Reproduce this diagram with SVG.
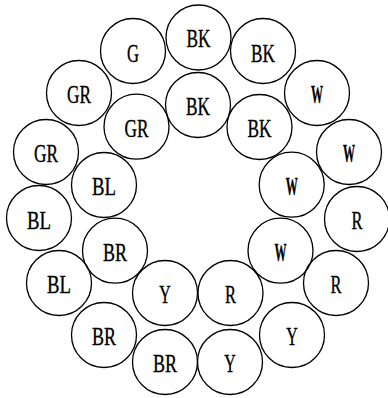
<svg xmlns="http://www.w3.org/2000/svg" width="388" height="398" viewBox="0 0 388 398">
<style>
circle{fill:none;stroke:#000;stroke-width:1.3}
text{font-family:"Liberation Serif",serif;font-size:25px;text-anchor:middle;fill:#000;stroke:#000;stroke-width:0.35}
.w{font-weight:bold}
</style>
<rect width="388" height="398" fill="#fff"/>
<g id="outer">
<g id="o1"><circle cx="133" cy="51" r="32.5"/><text x="133" y="61.5" textLength="12" lengthAdjust="spacingAndGlyphs">G</text></g>
<g id="o2"><circle cx="198.5" cy="37.5" r="32.5"/><text x="198.5" y="47" textLength="24" lengthAdjust="spacingAndGlyphs">BK</text></g>
<g id="o3"><circle cx="263" cy="51" r="32.5"/><text x="263" y="61.5" textLength="24" lengthAdjust="spacingAndGlyphs">BK</text></g>
<g id="o4"><circle cx="317" cy="93" r="32.5"/><text class="w" x="317" y="103" textLength="12" lengthAdjust="spacingAndGlyphs">W</text></g>
<g id="o5"><circle cx="349" cy="152" r="32.5"/><text class="w" x="349" y="162" textLength="12" lengthAdjust="spacingAndGlyphs">W</text></g>
<g id="o6"><circle cx="357" cy="219" r="32.5"/><text x="357" y="229" textLength="11" lengthAdjust="spacingAndGlyphs">R</text></g>
<g id="o7"><circle cx="336" cy="283" r="32.5"/><text x="336" y="293" textLength="11" lengthAdjust="spacingAndGlyphs">R</text></g>
<g id="o8"><circle cx="292" cy="335" r="32.5"/><text x="292" y="345" textLength="11.5" lengthAdjust="spacingAndGlyphs">Y</text></g>
<g id="o9"><circle cx="230" cy="362" r="32.5"/><text x="230" y="372" textLength="11.5" lengthAdjust="spacingAndGlyphs">Y</text></g>
<g id="o10"><circle cx="165" cy="362" r="32.5"/><text x="165" y="372" textLength="24" lengthAdjust="spacingAndGlyphs">BR</text></g>
<g id="o11"><circle cx="104" cy="335" r="32.5"/><text x="104" y="345" textLength="24" lengthAdjust="spacingAndGlyphs">BR</text></g>
<g id="o12"><circle cx="59" cy="283" r="32.5"/><text x="59" y="293" textLength="24" lengthAdjust="spacingAndGlyphs">BL</text></g>
<g id="o13"><circle cx="39" cy="218" r="32.5"/><text x="39" y="228.5" textLength="24" lengthAdjust="spacingAndGlyphs">BL</text></g>
<g id="o14"><circle cx="46" cy="152" r="32.5"/><text x="46" y="162" textLength="24" lengthAdjust="spacingAndGlyphs">GR</text></g>
<g id="o15"><circle cx="79" cy="93" r="32.5"/><text x="79" y="103" textLength="24" lengthAdjust="spacingAndGlyphs">GR</text></g>
</g>
<g id="inner">
<g id="i1"><circle cx="198" cy="105" r="32.5"/><text x="198" y="115" textLength="24" lengthAdjust="spacingAndGlyphs">BK</text></g>
<g id="i2"><circle cx="259.5" cy="127" r="32.5"/><text x="259.5" y="137" textLength="24" lengthAdjust="spacingAndGlyphs">BK</text></g>
<g id="i3"><circle cx="291.7" cy="184.7" r="32.5"/><text class="w" x="291.7" y="195" textLength="12" lengthAdjust="spacingAndGlyphs">W</text></g>
<g id="i4"><circle cx="280.5" cy="250.7" r="32.5"/><text class="w" x="280.5" y="261" textLength="12" lengthAdjust="spacingAndGlyphs">W</text></g>
<g id="i5"><circle cx="230.5" cy="293" r="32.5"/><text x="230.5" y="303" textLength="11" lengthAdjust="spacingAndGlyphs">R</text></g>
<g id="i6"><circle cx="165" cy="293" r="32.5"/><text x="165" y="303" textLength="11.5" lengthAdjust="spacingAndGlyphs">Y</text></g>
<g id="i7"><circle cx="115" cy="250.7" r="32.5"/><text x="115" y="261" textLength="24" lengthAdjust="spacingAndGlyphs">BR</text></g>
<g id="i8"><circle cx="104" cy="185" r="32.5"/><text x="104" y="195" textLength="24" lengthAdjust="spacingAndGlyphs">BL</text></g>
<g id="i9"><circle cx="136.5" cy="126.7" r="32.5"/><text x="136.5" y="137" textLength="24" lengthAdjust="spacingAndGlyphs">GR</text></g>
</g>
<g id="connectors"/>
</svg>
